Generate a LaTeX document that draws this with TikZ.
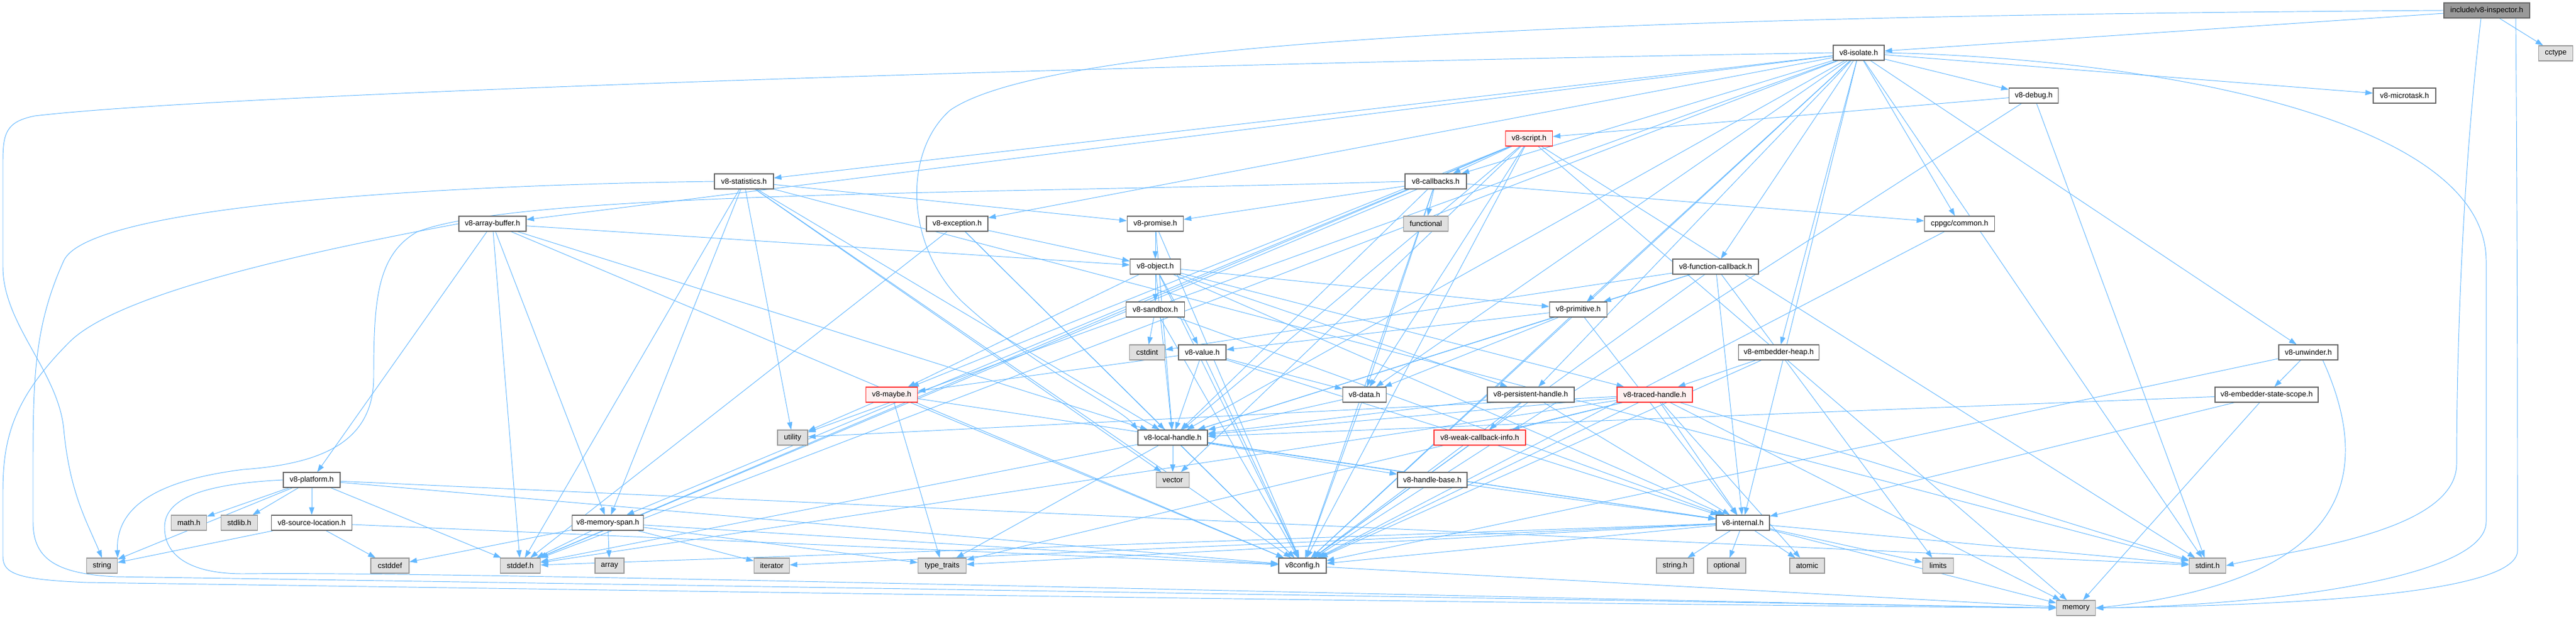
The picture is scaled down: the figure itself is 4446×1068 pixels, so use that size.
\documentclass[tikz,border=0pt]{standalone}
\usepackage{fontspec}
\setmainfont{Liberation Sans}
\usetikzlibrary{arrows.meta,backgrounds}
\definecolor{edgec}{HTML}{63B8FF}
\definecolor{wborder}{HTML}{666666}
\definecolor{gfill}{HTML}{E0E0E0}
\definecolor{gborder}{HTML}{999999}
\definecolor{rootfill}{HTML}{999999}
\definecolor{rborder}{HTML}{FF3333}
\definecolor{rfill}{HTML}{FFF0F0}
\begin{document}
\begin{tikzpicture}[x=1pt,y=-1pt,
 box/.style={rectangle,minimum height=26pt,inner sep=0pt,line width=1.2pt,font=\fontsize{13pt}{15pt}\selectfont,text=black},
 wnode/.style={box,draw=wborder,fill=white},
 gnode/.style={box,draw=gborder,fill=gfill},
 rnode/.style={box,draw=rborder,fill=rfill},
 rootnode/.style={box,draw=wborder,fill=rootfill},
 dep/.style={draw=edgec,line width=0.95pt,-{Triangle[length=13pt,width=9pt]}}]
\useasboundingbox (0,0) rectangle (4446,1068);
% nodes
\node[rootnode,minimum width=148pt] (ins) at (4292,18) {include/v8-inspector.h};
\node[wnode,minimum width=88pt] (iso) at (3208,91) {v8-isolate.h};
\node[gnode,minimum width=59pt] (cct) at (4411,92) {cctype};
\node[wnode,minimum width=85pt] (dbg) at (3510,165) {v8-debug.h};
\node[wnode,minimum width=108pt] (mtk) at (4150,165) {v8-microtask.h};
\node[rnode,minimum width=81pt] (scr) at (2639,239) {v8-script.h};
\node[wnode,minimum width=102pt] (sta) at (1284,313) {v8-statistics.h};
\node[wnode,minimum width=106pt] (cbk) at (2478,313) {v8-callbacks.h};
\node[wnode,minimum width=116pt] (abuf) at (850,386) {v8-array-buffer.h};
\node[wnode,minimum width=106pt] (exc) at (1652,386) {v8-exception.h};
\node[wnode,minimum width=97pt] (prm) at (1994,386) {v8-promise.h};
\node[gnode,minimum width=77pt] (fnl) at (2461,386) {functional};
\node[wnode,minimum width=121pt] (cpg) at (3382,386) {cppgc/common.h};
\node[wnode,minimum width=87pt] (obj) at (1994,460) {v8-object.h};
\node[wnode,minimum width=148pt] (fcb) at (2961,460) {v8-function-callback.h};
\node[wnode,minimum width=101pt] (sbx) at (1994,534) {v8-sandbox.h};
\node[wnode,minimum width=99pt] (prim) at (2724,534) {v8-primitive.h};
\node[gnode,minimum width=61pt] (cint) at (1980,608) {cstdint};
\node[wnode,minimum width=82pt] (val) at (2075,608) {v8-value.h};
\node[wnode,minimum width=139pt] (eheap) at (3070,608) {v8-embedder-heap.h};
\node[wnode,minimum width=102pt] (unw) at (3984,608) {v8-unwinder.h};
\node[rnode,minimum width=89pt] (myb) at (1539,681) {v8-maybe.h};
\node[wnode,minimum width=75pt] (dat) at (2355,681) {v8-data.h};
\node[wnode,minimum width=150pt] (pers) at (2642,681) {v8-persistent-handle.h};
\node[rnode,minimum width=130pt] (trc) at (2856,681) {v8-traced-handle.h};
\node[wnode,minimum width=178pt] (ess) at (3912,681) {v8-embedder-state-scope.h};
\node[gnode,minimum width=52pt] (utl) at (1368,755) {utility};
\node[wnode,minimum width=120pt] (lh) at (2024,755) {v8-local-handle.h};
\node[rnode,minimum width=158pt] (wci) at (2554,755) {v8-weak-callback-info.h};
\node[wnode,minimum width=98pt] (plat) at (538,828) {v8-platform.h};
\node[gnode,minimum width=57pt] (vec) at (2024,828) {vector};
\node[wnode,minimum width=120pt] (hb) at (2472,828) {v8-handle-base.h};
\node[gnode,minimum width=61pt] (math) at (326,902) {math.h};
\node[gnode,minimum width=63pt] (stdl) at (413,902) {stdlib.h};
\node[wnode,minimum width=139pt] (sloc) at (538,902) {v8-source-location.h};
\node[wnode,minimum width=123pt] (mspan) at (1049,902) {v8-memory-span.h};
\node[wnode,minimum width=92pt] (intl) at (3008,902) {v8-internal.h};
\node[gnode,minimum width=53pt] (str) at (176,976) {string};
\node[gnode,minimum width=66pt] (csd) at (673,976) {cstddef};
\node[gnode,minimum width=69pt] (stdd) at (898,976) {stddef.h};
\node[gnode,minimum width=50pt] (arr) at (1052,976) {array};
\node[gnode,minimum width=61pt] (itr) at (1332,976) {iterator};
\node[gnode,minimum width=83pt] (tt) at (1626,976) {type\_traits};
\node[wnode,minimum width=82pt] (cfg) at (2248,976) {v8config.h};
\node[gnode,minimum width=64pt] (strh) at (2891,976) {string.h};
\node[gnode,minimum width=66pt] (opt) at (2980,976) {optional};
\node[gnode,minimum width=60pt] (atm) at (3119,976) {atomic};
\node[gnode,minimum width=53pt] (lim) at (3345,976) {limits};
\node[gnode,minimum width=63pt] (sti) at (3810,976) {stdint.h};
\node[gnode,minimum width=67pt] (mem) at (3583,1049) {memory};
% edges
\begin{pgfonlayer}{background}
\fill[white] (0,0) rectangle (4446,1068);
\foreach \a/\b in {ins/iso,ins/cct,
 iso/stdd,iso/sti,iso/utl,iso/cpg,iso/abuf,iso/cbk,iso/dat,iso/dbg,iso/eheap,iso/exc,iso/fcb,iso/intl,iso/lh,iso/mtk,iso/pers,iso/prim,iso/sta,iso/unw,iso/cfg,
 dbg/scr,dbg/sti,dbg/cfg,
 scr/cbk,scr/dat,scr/lh,scr/myb,scr/mspan,scr/cfg,scr/stdd,scr/sti,scr/mem,scr/vec,
 sta/prm,sta/lh,sta/mspan,sta/cfg,sta/stdd,sta/sti,sta/utl,sta/vec,
 cbk/fnl,cbk/cpg,cbk/dat,cbk/lh,cbk/prm,cbk/cfg,cbk/stdd,
 abuf/stdd,abuf/lh,abuf/mspan,abuf/obj,abuf/plat,abuf/cfg,
 exc/stdd,exc/lh,exc/obj,exc/cfg,
 prm/lh,prm/obj,prm/cfg,
 obj/intl,obj/lh,obj/myb,obj/pers,obj/prim,obj/sbx,obj/trc,obj/val,obj/cfg,
 fcb/cint,fcb/lim,fcb/intl,fcb/lh,fcb/prim,fcb/cfg,
 sbx/cint,sbx/intl,sbx/cfg,
 prim/dat,prim/intl,prim/lh,prim/val,prim/cfg,
 val/dat,val/intl,val/lh,val/myb,val/cfg,
 eheap/trc,eheap/cfg,
 unw/ess,unw/cfg,
 myb/tt,myb/utl,myb/intl,myb/cfg,
 dat/lh,dat/cfg,
 pers/intl,pers/lh,pers/wci,pers/cfg,
 trc/stdd,trc/sti,trc/atm,trc/mem,trc/tt,trc/utl,trc/intl,trc/lh,trc/wci,trc/cfg,
 ess/mem,ess/intl,ess/lh,
 lh/stdd,lh/tt,lh/vec,lh/cfg,lh/hb,lh/intl,
 wci/cfg,hb/intl,
 plat/math,plat/stdd,plat/sti,plat/stdl,plat/str,plat/sloc,plat/cfg,
 sloc/csd,sloc/str,sloc/cfg,
 mspan/stdd,mspan/arr,mspan/csd,mspan/itr,mspan/tt,mspan/cfg,
 intl/stdd,intl/sti,intl/strh,intl/atm,intl/itr,intl/lim,intl/mem,intl/opt,intl/tt,intl/cfg,
 cfg/mem,cpg/cfg}
 {\draw[dep] (\a) -- (\b);}
% routed edges
\draw[dep] (ins.west) .. controls (2600,28) and (1800,80) .. (1640,190) .. controls (1560,260) and (1560,420) .. (1660,520) .. controls (1790,640) and (1930,700) .. (lh.north west);
\draw[dep] ([xshift=50pt]ins.south) .. controls (4345,400) and (4345,800) .. (4345,950) .. controls (4345,1030) and (3900,1045) .. (mem.east);
\draw[dep] ([xshift=-10pt]ins.south) .. controls (4250,300) and (4240,600) .. (4240,800) .. controls (4240,920) and (3950,950) .. (sti.east);
\draw[dep] (iso.east) .. controls (3700,100) and (4290,200) .. (4291,450) -- (4291,900) .. controls (4291,1000) and (3900,1045) .. (mem.east);
\draw[dep] (iso.west) .. controls (2000,110) and (400,160) .. (60,200) .. controls (10,210) and (5,230) .. (5,280) -- (5,460) .. controls (5,560) and (100,640) .. (110,740) .. controls (120,850) and (150,900) .. (str.north);
\draw[dep] (sta.west) .. controls (700,320) and (150,360) .. (110,450) .. controls (60,560) and (57,650) .. (57,800) -- (57,900) .. controls (57,960) and (90,990) .. (200,995) .. controls (1200,1010) and (2500,1030) .. (mem.west);
\draw[dep] (abuf.west) .. controls (500,440) and (200,510) .. (120,590) .. controls (20,690) and (5,760) .. (5,850) -- (5,960) .. controls (5,990) and (30,1000) .. (150,1005) .. controls (1200,1020) and (2500,1040) .. (mem.west);
\draw[dep] (plat.west) .. controls (350,835) and (284,860) .. (284,910) .. controls (284,960) and (330,990) .. (420,990) .. controls (800,985) and (2500,1030) .. (mem.west);
\draw[dep] (cbk.west) .. controls (1700,335) and (900,330) .. (720,400) .. controls (650,440) and (645,520) .. (645,650) .. controls (645,760) and (560,800) .. (420,810) .. controls (260,830) and (200,880) .. (str.north east);
\draw[dep] ([xshift=25pt]unw.south) .. controls (4090,800) and (4080,1000) .. (mem.east);
\end{pgfonlayer}
\end{tikzpicture}
\end{document}
